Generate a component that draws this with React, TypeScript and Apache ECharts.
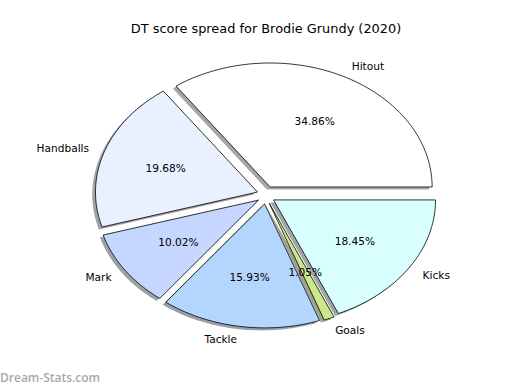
import React, { useEffect, useRef } from "react";
import * as echarts from "echarts";

// ---- data ----
const categories = ["Hitout", "Handballs", "Mark", "Tackle", "Goals", "Kicks"];
const values = [34.86, 19.68, 10.02, 15.93, 1.05, 18.45];
const sliceColors = ["#ffffff", "#e9f0fe", "#c5d7fe", "#b4d5fe", "#cce88a", "#d8fefe"];
const titleText = "DT score spread for Brodie Grundy (2020)";
const watermark = "Dream-Stats.com";

// ---- layout ----
const CX = 266;
const CY = 195;
const RX = 162;
const RY = 124;
const EXPLODE = 9;
const SHADOW_DX = -3.2;
const SHADOW_DY = 2.5;
const FONT = "DejaVu Sans";

const total = values.reduce((a, b) => a + b, 0);

function sliceGeom(i: number) {
  let start = 0;
  for (let k = 0; k < i; k++) start += (values[k] / total) * 360;
  const end = start + (values[i] / total) * 360;
  const mid = ((start + end) / 2) * (Math.PI / 180);
  const ox = CX + EXPLODE * Math.cos(mid);
  const oy = CY - EXPLODE * Math.sin(mid);
  const pts: number[][] = [[ox, oy]];
  const steps = Math.max(2, Math.ceil(end - start));
  for (let s = 0; s <= steps; s++) {
    const a = ((start + ((end - start) * s) / steps) * Math.PI) / 180;
    pts.push([ox + RX * Math.cos(a), oy - RY * Math.sin(a)]);
  }
  return { pts, mid, ox, oy };
}

function shade(hex: string) {
  const r = parseInt(hex.slice(1, 3), 16);
  const g = parseInt(hex.slice(3, 5), 16);
  const b = parseInt(hex.slice(5, 7), 16);
  return `rgb(${Math.round(r * 0.3)},${Math.round(g * 0.3)},${Math.round(b * 0.3)})`;
}

export default function App() {
  const ref = useRef<HTMLDivElement>(null);
  useEffect(() => {
    if (!ref.current) return;
    const chart = echarts.init(ref.current, undefined, { renderer: "svg" });
    const data = values.map((v, i) => ({ name: categories[i], value: v }));
    chart.setOption({
      animation: false,
      backgroundColor: "#ffffff",
      title: {
        text: titleText,
        left: CX,
        top: 22,
        textAlign: "center",
        padding: 0,
        textStyle: { fontFamily: FONT, fontSize: 12.9, fontWeight: "normal", color: "#000000" },
      },
      graphic: [
        {
          type: "text",
          left: 0,
          top: 371,
          style: {
            text: watermark,
            font: "600 12px 'Open Sans'",
            fill: "#a8a8a8",
          },
        },
      ],
      series: [
        {
          type: "custom",
          coordinateSystem: "none",
          z: 1,
          data,
          renderItem: (params: any) => {
            const i = params.dataIndex;
            const g = sliceGeom(i);
            return {
              type: "polygon",
              shape: { points: g.pts.map((p) => [p[0] + SHADOW_DX, p[1] + SHADOW_DY]) },
              style: { fill: shade(sliceColors[i]), opacity: 0.5, stroke: "none" },
              silent: true,
            };
          },
        },
        {
          type: "custom",
          coordinateSystem: "none",
          z: 2,
          data,
          renderItem: (params: any) => {
            const i = params.dataIndex;
            const g = sliceGeom(i);
            return {
              type: "polygon",
              shape: { points: g.pts },
              style: { fill: sliceColors[i], stroke: "#000000", lineWidth: 0.8, lineJoin: "miter" },
            };
          },
        },
        {
          type: "custom",
          coordinateSystem: "none",
          z: 3,
          data,
          renderItem: (params: any) => {
            const i = params.dataIndex;
            const g = sliceGeom(i);
            const c = Math.cos(g.mid);
            const s = Math.sin(g.mid);
            const pct = ((values[i] / total) * 100).toFixed(2) + "%";
            const lx = g.ox + 1.1 * RX * c;
            const ly = g.oy - 1.1 * RY * s;
            const px = g.ox + 0.6 * RX * c;
            const py = g.oy - 0.6 * RY * s;
            return {
              type: "group",
              children: [
                {
                  type: "text",
                  style: {
                    text: pct,
                    x: px,
                    y: py,
                    align: "center",
                    verticalAlign: "middle",
                    font: `10.6px '${FONT}'`,
                    fill: "#000000",
                  },
                },
                {
                  type: "text",
                  style: {
                    text: categories[i],
                    x: lx,
                    y: ly,
                    align: c >= 0 ? "left" : "right",
                    verticalAlign: "middle",
                    font: `10.6px '${FONT}'`,
                    fill: "#000000",
                  },
                },
              ],
            };
          },
        },
      ],
    });
    return () => chart.dispose();
  }, []);
  return (
    <div
      ref={ref}
      style={{ position: "fixed", left: 0, top: 0, width: 520, height: 390, background: "#fff" }}
    />
  );
}
